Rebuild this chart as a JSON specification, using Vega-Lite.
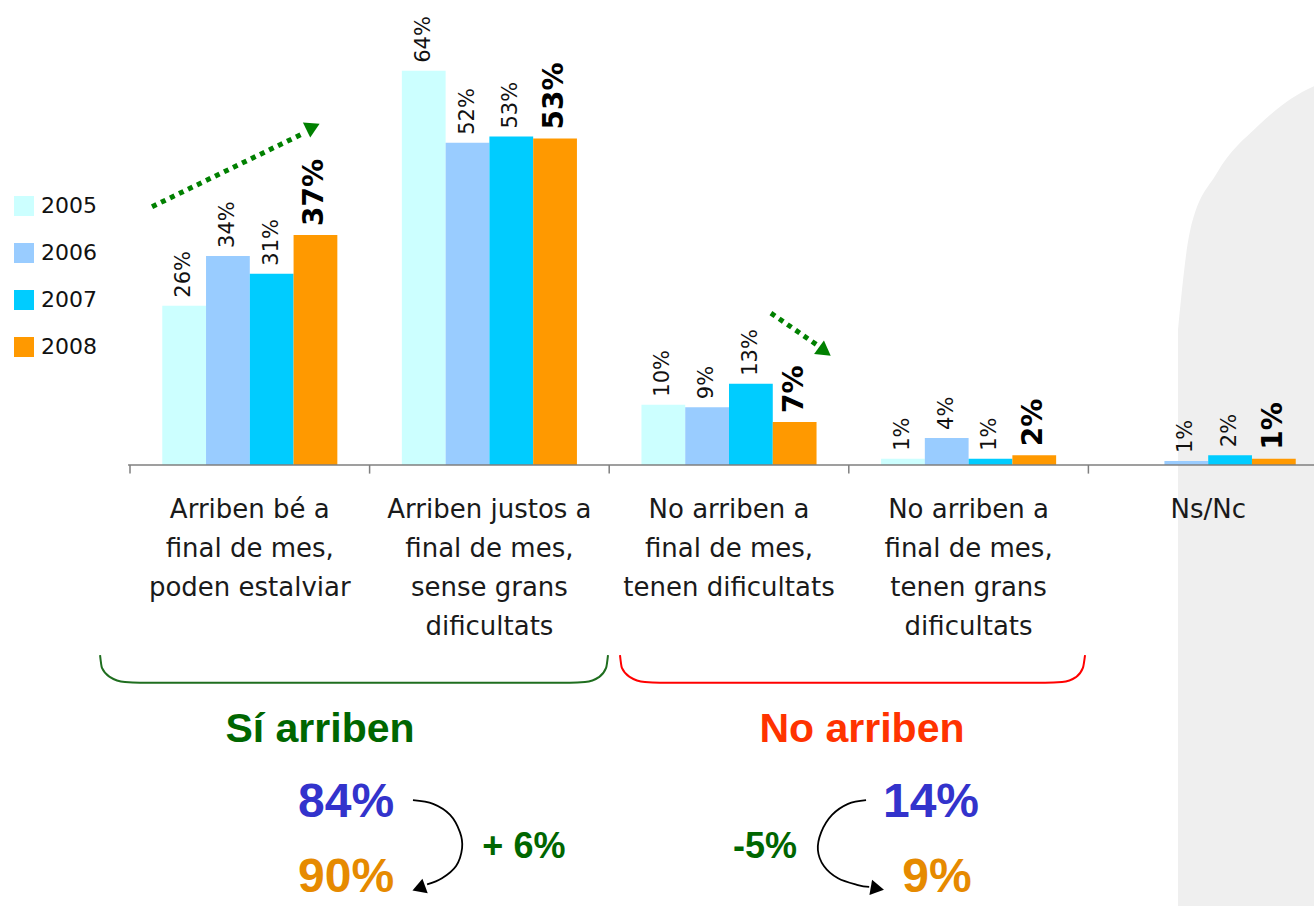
{
  "$schema": "https://vega.github.io/schema/vega-lite/v6.json",
  "autosize": "none",
  "padding": {"left": 130, "right": 0, "top": 0, "bottom": 0},
  "width": 1184,
  "height": 906,
  "background": "white",
  "config": {"view": {"stroke": null}},
  "resolve": {"scale": {"x": "independent"}},
  "layer": [
    {
      "data": {"values": [
        {"pos": 4.374, "v": 0.22},
        {"pos": 4.424, "v": 0.38},
        {"pos": 4.537, "v": 0.475},
        {"pos": 4.704, "v": 0.55},
        {"pos": 4.937, "v": 0.615},
        {"pos": 5.1, "v": 0.63}
      ]},
      "mark": {"type": "area", "color": "#efefef", "interpolate": "monotone"},
      "encoding": {
        "x": {"field": "pos", "type": "quantitative", "scale": {"domain": [0, 5], "range": [0, 1198], "nice": false, "zero": false}, "axis": null},
        "y": {"field": "v", "type": "quantitative", "scale": {"domain": [-0.7171, 0.7561], "nice": false, "zero": false}, "axis": null},
        "y2": {"datum": -0.75}
      }
    },
    {
      "data": {"values": [
        {"cat": "Arriben bé a\nfinal de mes,\npoden estalviar", "year": "2005", "value": 0.259},
        {"cat": "Arriben bé a\nfinal de mes,\npoden estalviar", "year": "2006", "value": 0.34},
        {"cat": "Arriben bé a\nfinal de mes,\npoden estalviar", "year": "2007", "value": 0.311},
        {"cat": "Arriben bé a\nfinal de mes,\npoden estalviar", "year": "2008", "value": 0.374},
        {"cat": "Arriben justos a\nfinal de mes,\nsense grans\ndificultats", "year": "2005", "value": 0.641},
        {"cat": "Arriben justos a\nfinal de mes,\nsense grans\ndificultats", "year": "2006", "value": 0.524},
        {"cat": "Arriben justos a\nfinal de mes,\nsense grans\ndificultats", "year": "2007", "value": 0.534},
        {"cat": "Arriben justos a\nfinal de mes,\nsense grans\ndificultats", "year": "2008", "value": 0.531},
        {"cat": "No arriben a\nfinal de mes,\ntenen dificultats", "year": "2005", "value": 0.098},
        {"cat": "No arriben a\nfinal de mes,\ntenen dificultats", "year": "2006", "value": 0.094},
        {"cat": "No arriben a\nfinal de mes,\ntenen dificultats", "year": "2007", "value": 0.132},
        {"cat": "No arriben a\nfinal de mes,\ntenen dificultats", "year": "2008", "value": 0.07},
        {"cat": "No arriben a\nfinal de mes,\ntenen grans\ndificultats", "year": "2005", "value": 0.01},
        {"cat": "No arriben a\nfinal de mes,\ntenen grans\ndificultats", "year": "2006", "value": 0.044},
        {"cat": "No arriben a\nfinal de mes,\ntenen grans\ndificultats", "year": "2007", "value": 0.01},
        {"cat": "No arriben a\nfinal de mes,\ntenen grans\ndificultats", "year": "2008", "value": 0.016},
        {"cat": "Ns/Nc", "year": "2006", "value": 0.0065},
        {"cat": "Ns/Nc", "year": "2007", "value": 0.016},
        {"cat": "Ns/Nc", "year": "2008", "value": 0.01}
      ]},
      "encoding": {
        "x": {"field": "cat", "type": "nominal", "sort": null,
              "scale": {"domain": ["Arriben bé a\nfinal de mes,\npoden estalviar", "Arriben justos a\nfinal de mes,\nsense grans\ndificultats", "No arriben a\nfinal de mes,\ntenen dificultats", "No arriben a\nfinal de mes,\ntenen grans\ndificultats", "Ns/Nc"], "range": [0, 1198], "paddingInner": 0, "paddingOuter": 0},
              "axis": null},
        "xOffset": {"field": "year", "type": "nominal", "scale": {"domain": ["2005", "2006", "2007", "2008"], "paddingInner": 0, "paddingOuter": 0.737}},
        "y": {"field": "value", "type": "quantitative", "axis": null}
      },
      "layer": [
        {
          "mark": {"type": "bar"},
          "encoding": {
            "color": {"field": "year", "type": "nominal",
                      "scale": {"domain": ["2005", "2006", "2007", "2008"], "range": ["#CCFFFF", "#99CCFF", "#00CCFF", "#FF9900"]},
                      "legend": {"title": null, "orient": "none", "legendX": -117, "legendY": 195, "symbolType": "square", "symbolSize": 400, "symbolStrokeWidth": 0, "labelFont": "DejaVu Sans", "labelFontSize": 22, "labelColor": "#111111", "rowPadding": 25, "labelOffset": 6}}
          }
        },
        {
          "transform": [{"filter": "datum.year != '2008'"}],
          "mark": {"type": "text", "angle": 270, "align": "left", "baseline": "middle", "dx": 8, "font": "DejaVu Sans", "fontSize": 21, "color": "#111111"},
          "encoding": {"text": {"field": "value", "type": "quantitative", "format": ".0%"}}
        },
        {
          "transform": [{"filter": "datum.year == '2008'"}],
          "mark": {"type": "text", "angle": 270, "align": "left", "baseline": "middle", "dx": 9, "font": "DejaVu Sans", "fontSize": 28, "fontWeight": "bold", "color": "#000000"},
          "encoding": {"text": {"field": "value", "type": "quantitative", "format": ".0%"}}
        }
      ]
    },
    {
      "data": {"values": [
        {"cat": "Arriben bé a\nfinal de mes,\npoden estalviar"},
        {"cat": "Arriben justos a\nfinal de mes,\nsense grans\ndificultats"},
        {"cat": "No arriben a\nfinal de mes,\ntenen dificultats"},
        {"cat": "No arriben a\nfinal de mes,\ntenen grans\ndificultats"},
        {"cat": "Ns/Nc"}
      ]},
      "mark": {"type": "text", "lineBreak": "\n", "lineHeight": 39, "baseline": "middle", "align": "center", "font": "DejaVu Sans", "fontSize": 26, "color": "#1a1a1a"},
      "encoding": {
        "x": {"field": "cat", "type": "nominal", "sort": null,
              "scale": {"domain": ["Arriben bé a\nfinal de mes,\npoden estalviar", "Arriben justos a\nfinal de mes,\nsense grans\ndificultats", "No arriben a\nfinal de mes,\ntenen dificultats", "No arriben a\nfinal de mes,\ntenen grans\ndificultats", "Ns/Nc"], "range": [0, 1198], "paddingInner": 0, "paddingOuter": 0},
              "axis": null},
        "y": {"datum": -0.073, "type": "quantitative"},
        "text": {"field": "cat"}
      }
    },
    {
      "encoding": {
        "x": {"field": "pos", "type": "quantitative", "scale": {"domain": [0, 5], "range": [0, 1198], "nice": false, "zero": false}, "axis": null},
        "y": {"field": "v", "type": "quantitative"}
      },
      "layer": [
        {
          "data": {"values": [{"pos": -0.008, "pos2": 5.1, "v": 0}]},
          "mark": {"type": "rule", "color": "#7f7f7f", "strokeWidth": 1.5},
          "encoding": {"x2": {"field": "pos2"}}
        },
        {
          "data": {"values": [{"pos": 0, "v": 0}, {"pos": 1, "v": 0}, {"pos": 2, "v": 0}, {"pos": 3, "v": 0}, {"pos": 4, "v": 0}]},
          "mark": {"type": "rule", "color": "#7f7f7f", "strokeWidth": 1.5},
          "encoding": {"y2": {"datum": -0.014}}
        },
        {
          "data": {"values": [
            {"pos": -0.125, "v": -0.309}, {"pos": -0.117, "v": -0.33}, {"pos": -0.083, "v": -0.345}, {"pos": -0.021, "v": -0.353}, {"pos": 0.042, "v": -0.354},
            {"pos": 1.836, "v": -0.354}, {"pos": 1.899, "v": -0.353}, {"pos": 1.957, "v": -0.345}, {"pos": 1.987, "v": -0.33}, {"pos": 1.995, "v": -0.309}
          ]},
          "mark": {"type": "line", "color": "#1F6E1F", "strokeWidth": 2, "interpolate": "monotone"}
        },
        {
          "data": {"values": [
            {"pos": 2.045, "v": -0.309}, {"pos": 2.053, "v": -0.33}, {"pos": 2.087, "v": -0.345}, {"pos": 2.149, "v": -0.353}, {"pos": 2.212, "v": -0.354},
            {"pos": 3.819, "v": -0.354}, {"pos": 3.89, "v": -0.353}, {"pos": 3.948, "v": -0.345}, {"pos": 3.977, "v": -0.33}, {"pos": 3.986, "v": -0.309}
          ]},
          "mark": {"type": "line", "color": "#FF0000", "strokeWidth": 2, "interpolate": "monotone"}
        },
        {
          "data": {"values": [{"pos": 0.092, "v": 0.42}, {"pos": 0.728, "v": 0.54}]},
          "mark": {"type": "line", "color": "#008000", "strokeWidth": 5, "strokeDash": [5, 5]}
        },
        {
          "data": {"values": [{"pos": 2.675, "v": 0.247}, {"pos": 2.868, "v": 0.195}]},
          "mark": {"type": "line", "color": "#008000", "strokeWidth": 5, "strokeDash": [5, 5]}
        },
        {
          "data": {"values": [{"pos": 0.755, "v": 0.548}]},
          "mark": {"type": "point", "shape": "triangle", "filled": true, "color": "#008000", "size": 280, "opacity": 1, "angle": 64}
        },
        {
          "data": {"values": [{"pos": 2.892, "v": 0.187}]},
          "mark": {"type": "point", "shape": "triangle", "filled": true, "color": "#008000", "size": 280, "opacity": 1, "angle": 126}
        },
        {
          "data": {"values": [
            {"i": 1, "pos": 1.181, "v": -0.545}, {"i": 2, "pos": 1.265, "v": -0.551}, {"i": 3, "pos": 1.336, "v": -0.569}, {"i": 4, "pos": 1.377, "v": -0.597},
            {"i": 5, "pos": 1.386, "v": -0.623}, {"i": 6, "pos": 1.361, "v": -0.652}, {"i": 7, "pos": 1.302, "v": -0.672}, {"i": 8, "pos": 1.24, "v": -0.682}
          ]},
          "mark": {"type": "line", "color": "#000000", "strokeWidth": 1.8, "interpolate": "cardinal"},
          "encoding": {"order": {"field": "i", "type": "quantitative"}}
        },
        {
          "data": {"values": [
            {"i": 1, "pos": 3.072, "v": -0.545}, {"i": 2, "pos": 2.997, "v": -0.551}, {"i": 3, "pos": 2.93, "v": -0.569}, {"i": 4, "pos": 2.885, "v": -0.597},
            {"i": 5, "pos": 2.871, "v": -0.626}, {"i": 6, "pos": 2.896, "v": -0.652}, {"i": 7, "pos": 2.955, "v": -0.672}, {"i": 8, "pos": 3.038, "v": -0.683}, {"i": 9, "pos": 3.085, "v": -0.686}
          ]},
          "mark": {"type": "line", "color": "#000000", "strokeWidth": 1.8, "interpolate": "cardinal"},
          "encoding": {"order": {"field": "i", "type": "quantitative"}}
        },
        {
          "data": {"values": [{"pos": 1.214, "v": -0.687}]},
          "mark": {"type": "point", "shape": "triangle", "filled": true, "color": "#000000", "size": 240, "opacity": 1, "angle": 250}
        },
        {
          "data": {"values": [{"pos": 3.11, "v": -0.688}]},
          "mark": {"type": "point", "shape": "triangle", "filled": true, "color": "#000000", "size": 240, "opacity": 1, "angle": 100}
        },
        {
          "data": {"values": [{"txt": "Sí arriben", "pos": 0.793, "v": -0.431}]},
          "mark": {"type": "text", "font": "Liberation Sans", "fontWeight": "bold", "fontSize": 41, "color": "#006600", "align": "center", "baseline": "middle"},
          "encoding": {"text": {"field": "txt"}}
        },
        {
          "data": {"values": [{"txt": "No arriben", "pos": 3.055, "v": -0.431}]},
          "mark": {"type": "text", "font": "Liberation Sans", "fontWeight": "bold", "fontSize": 41, "color": "#FF3300", "align": "center", "baseline": "middle"},
          "encoding": {"text": {"field": "txt"}}
        },
        {
          "data": {"values": [{"txt": "84%", "pos": 0.902, "v": -0.55}, {"txt": "14%", "pos": 3.343, "v": -0.55}]},
          "mark": {"type": "text", "font": "Liberation Sans", "fontWeight": "bold", "fontSize": 48, "color": "#3333CC", "align": "center", "baseline": "middle"},
          "encoding": {"text": {"field": "txt"}}
        },
        {
          "data": {"values": [{"txt": "90%", "pos": 0.902, "v": -0.672}, {"txt": "9%", "pos": 3.368, "v": -0.672}]},
          "mark": {"type": "text", "font": "Liberation Sans", "fontWeight": "bold", "fontSize": 48, "color": "#E68A00", "align": "center", "baseline": "middle"},
          "encoding": {"text": {"field": "txt"}}
        },
        {
          "data": {"values": [{"txt": "+ 6%", "pos": 1.644, "v": -0.621}, {"txt": "-5%", "pos": 2.65, "v": -0.621}]},
          "mark": {"type": "text", "font": "Liberation Sans", "fontWeight": "bold", "fontSize": 36, "color": "#006600", "align": "center", "baseline": "middle"},
          "encoding": {"text": {"field": "txt"}}
        }
      ]
    }
  ]
}
